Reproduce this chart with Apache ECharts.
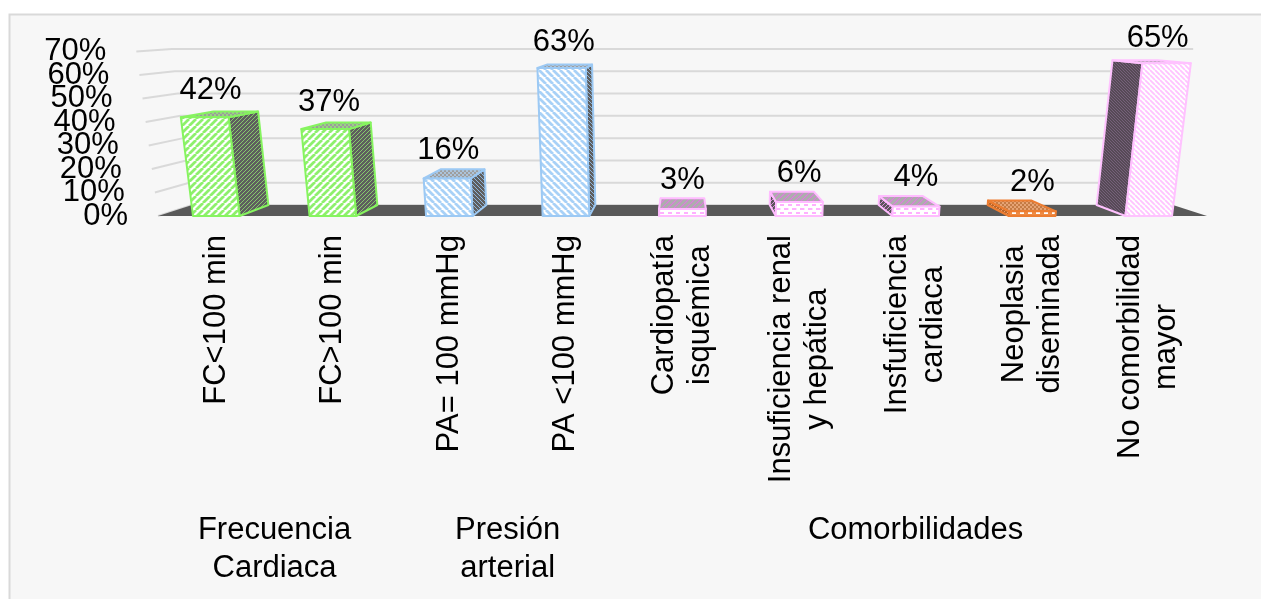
<!DOCTYPE html>
<html>
<head>
<meta charset="utf-8">
<script src="https://cdn.jsdelivr.net/npm/echarts@6/dist/echarts.min.js"></script>
<style>
  html, body { margin: 0; padding: 0; background: #ffffff; }
  #chart { width: 1261px; height: 599px; }
</style>
</head>
<body>
<div id="chart"></div>
<script>
// ---- data ----
const categories = [
  'FC<100 min',
  'FC>100 min',
  'PA= 100 mmHg',
  'PA <100 mmHg',
  'Cardiopatía\nisquémica',
  'Insuficiencia renal\ny hepática',
  'Insfuficiencia\ncardiaca',
  'Neoplasia\ndiseminada',
  'No comorbilidad\nmayor'
];
const values = [42, 37, 16, 63, 3, 6, 4, 2, 65];
const groupNames = ['Frecuencia\nCardiaca', 'Presión\narterial', 'Comorbilidades'];
const groupFirst = [0, 2, 4];
const groupLast = [1, 3, 8];
const yTicks = [0, 10, 20, 30, 40, 50, 60, 70];

// ---- 3D look: simple perspective around the plot's horizontal centre ----
const DEPTH = 0.935;        // back plane shrink toward the centre
const LIFT = 0.059;         // outward spread per 100 % of height
const FRONT_DROP = 11;      // front plane base sits below the back wall base
const FRONT_STRETCH = 1.054;// front plane vertical scale vs back wall
const FONT = '"Liberation Sans", Arial, sans-serif';

function tile(size, draw) {
  const c = document.createElement('canvas');
  c.width = size; c.height = size;
  draw(c.getContext('2d'), size);
  return c;
}
function stripes(bg, fg, size, w, dir) {
  return { image: tile(size, (g, s) => {
    g.fillStyle = bg; g.fillRect(0, 0, s, s);
    g.strokeStyle = fg; g.lineWidth = w; g.beginPath();
    for (let k = -1; k <= 1; k++) {
      if (dir > 0) { g.moveTo(k * s, s); g.lineTo(k * s + s, 0); }
      else { g.moveTo(k * s, 0); g.lineTo(k * s + s, s); }
    }
    g.stroke();
  }), repeat: 'repeat' };
}
function dots(bg, fg, size, r) {
  return { image: tile(size, (g, s) => {
    g.fillStyle = bg; g.fillRect(0, 0, s, s);
    g.fillStyle = fg;
    g.beginPath(); g.arc(s / 4, s / 4, r, 0, Math.PI * 2); g.fill();
    g.beginPath(); g.arc(3 * s / 4, 3 * s / 4, r, 0, Math.PI * 2); g.fill();
  }), repeat: 'repeat' };
}
function dashes(bg, fg, size) {
  return { image: tile(size, (g, s) => {
    g.fillStyle = bg; g.fillRect(0, 0, s, s);
    g.fillStyle = fg;
    g.fillRect(0, 0, s * 0.55, 2);
    g.fillRect(s * 0.5, s / 2, s * 0.55, 2);
  }), repeat: 'repeat' };
}

const green = {
  edge: '#86f45f',
  front: stripes('#ffffff', '#8ef06c', 7, 2.8, 1),
  side: stripes('#5e5e5e', '#86c86c', 4, 1, 1),
  top: dots('#9c9c9c', '#98ee7a', 4, 0.9)
};
const blueA = {
  edge: '#9cc9f4',
  front: stripes('#ffffff', '#a8d1f7', 7, 2.8, -1),
  side: stripes('#5e5e5e', '#8fb5dc', 4, 1, -1),
  top: dots('#9e9e9e', '#b3d6f7', 4, 0.9)
};
const blueB = {
  edge: '#9cc9f4',
  front: stripes('#ffffff', '#a8d1f7', 7, 2.8, -1),
  side: stripes('#5e5e5e', '#8fb5dc', 4, 1, -1),
  top: dots('#9e9e9e', '#b3d6f7', 4, 0.9)
};
const pink = {
  edge: '#ffbcff',
  front: dashes('#ffffff', '#ffb0ff', 8),
  side: stripes('#5a555a', '#d88ad8', 4, 1, 1),
  top: stripes('#adadad', '#e07ae0', 6, 1.2, 1)
};
const orange = {
  edge: '#ed7d31',
  front: dashes('#ee8b45', '#ffffff', 8),
  side: stripes('#b8642a', '#e8a070', 4, 1, 1),
  top: dots('#c47b45', '#f2b184', 4, 1)
};
const pinkFine = {
  edge: '#ffc2ff',
  front: stripes('#ffffff', '#ffc4ff', 5, 1.8, -1),
  side: stripes('#564a56', '#76607a', 3, 1, -1),
  top: dots('#b4a0b4', '#ffc4ff', 4, 0.8)
};
const barThemes = [green, green, blueA, blueB, pink, pink, pink, orange, pinkFine];

function makeProjector(api) {
  const n = categories.length;
  const vp = (api.coord([0, 0])[0] + api.coord([n - 1, 0])[0]) / 2;
  const y0 = api.coord([0, 0])[1];
  return function (X, v, back) {
    const wy = api.coord([0, v])[1];
    const k = (1 + LIFT * v / 100) * (back ? DEPTH : 1);
    const x = vp + (X - vp) * k;
    const y = back ? wy : y0 + FRONT_DROP + (wy - y0) * FRONT_STRETCH;
    return [x, y];
  };
}
function plotEdges(api) {
  const n = categories.length;
  const band = api.size([1, 0])[0];
  return [api.coord([0, 0])[0] - band / 2, api.coord([n - 1, 0])[0] + band / 2];
}

// gridlines on the left wall and back wall, with the tick labels
function renderGrid(params, api) {
  const P = makeProjector(api);
  const v = api.value(1);
  const [xs, xe] = plotEdges(api);
  const a = P(xs, v, false), b = P(xs, v, true), c = P(xe, v, true);
  return {
    type: 'group',
    children: [
      { type: 'polyline', shape: { points: [a, b, c] },
        style: { stroke: '#d9d9d9', lineWidth: 2, fill: null } },
      { type: 'text', style: {
          text: v + '%', x: a[0] - 30, y: a[1], align: 'right', verticalAlign: 'middle',
          fontSize: 31, fontFamily: FONT, fill: '#000000' } }
    ]
  };
}

function renderFloor(params, api) {
  const P = makeProjector(api);
  const [xs, xe] = plotEdges(api);
  return {
    type: 'polygon',
    shape: { points: [P(xs, 0, false), P(xe, 0, false), P(xe, 0, true), P(xs, 0, true)] },
    style: { fill: '#595959' }
  };
}

function renderBar(params, api) {
  const P = makeProjector(api);
  const i = api.value(0), v = api.value(1);
  const n = categories.length;
  const vp = (api.coord([0, 0])[0] + api.coord([n - 1, 0])[0]) / 2;
  const cx = api.coord([i, 0])[0];
  const bw = api.size([1, 0])[0] * 0.4;
  const xl = cx - bw / 2, xr = cx + bw / 2;
  const FL0 = P(xl, 0, false), FR0 = P(xr, 0, false), FLv = P(xl, v, false), FRv = P(xr, v, false);
  const BL0 = P(xl, 0, true), BR0 = P(xr, 0, true), BLv = P(xl, v, true), BRv = P(xr, v, true);
  const t = barThemes[i];
  const edge = { stroke: t.edge, lineWidth: 2, lineJoin: 'round' };
  const sidePts = cx < vp ? [FR0, BR0, BRv, FRv] : [FL0, BL0, BLv, FLv];
  const wallY = api.coord([i, v])[1];
  const frontTopCx = (FLv[0] + FRv[0]) / 2;
  return {
    type: 'group',
    children: [
      { type: 'polygon', shape: { points: sidePts }, style: Object.assign({ fill: t.side }, edge) },
      { type: 'polygon', shape: { points: [FLv, FRv, BRv, BLv] }, style: Object.assign({ fill: t.top }, edge) },
      { type: 'polygon', shape: { points: [FL0, FR0, FRv, FLv] }, style: Object.assign({ fill: t.front }, edge) },
      { type: 'text', style: {
          text: v + '%', x: (frontTopCx + cx) / 2, y: wallY - 18 - v * 0.06,
          align: 'center', verticalAlign: 'middle', fontSize: 31, fontFamily: FONT, fill: '#000000' } }
    ]
  };
}

// group captions under the category labels, first line aligned across groups
function renderGroup(params, api) {
  const a = api.coord([api.value(0), 0]);
  const b = api.coord([api.value(1), 0]);
  return {
    type: 'text',
    style: {
      text: groupNames[params.dataIndex], x: (a[0] + b[0]) / 2, y: a[1] + 306,
      align: 'center', verticalAlign: 'top', lineHeight: 38,
      fontSize: 31, fontFamily: FONT, fill: '#000000'
    }
  };
}

const chart = echarts.init(document.getElementById('chart'), null, { renderer: 'canvas' });
chart.setOption({
  animation: false,
  backgroundColor: 'transparent',
  graphic: [{
    type: 'rect', z: -10, silent: true,
    shape: { x: 9.5, y: 14.5, width: 1400, height: 800 },
    style: { fill: '#f7f7f7', stroke: '#d9d9d9', lineWidth: 2 }
  }],
  grid: { left: 158, right: 54, top: 49, bottom: 394 },
  xAxis: {
    type: 'category',
    data: categories,
    boundaryGap: true,
    axisLine: { show: false },
    axisTick: { show: false },
    splitLine: { show: false },
    axisLabel: {
      interval: 0,
      rotate: 90,
      margin: 30,
      formatter: (s) => s.split('\n').map(l => '{c|' + l + '}').join('\n'),
      rich: { c: { align: 'center', fontSize: 31, fontFamily: FONT, color: '#000000', lineHeight: 36 } }
    }
  },
  yAxis: {
    type: 'value',
    min: 0, max: 70, interval: 10,
    axisLine: { show: false },
    axisTick: { show: false },
    axisLabel: { show: false },
    splitLine: { show: false }
  },
  series: [
    { type: 'custom', z: 1, renderItem: renderGrid, data: yTicks.map(t => [0, t]), silent: true },
    { type: 'custom', z: 2, renderItem: renderFloor, data: [[0, 0]], silent: true },
    { type: 'custom', z: 3, renderItem: renderBar, data: values.map((v, i) => [i, v]) },
    { type: 'custom', z: 4, renderItem: renderGroup, data: groupFirst.map((f, i) => [f, groupLast[i]]), silent: true }
  ]
});
</script>
</body>
</html>
